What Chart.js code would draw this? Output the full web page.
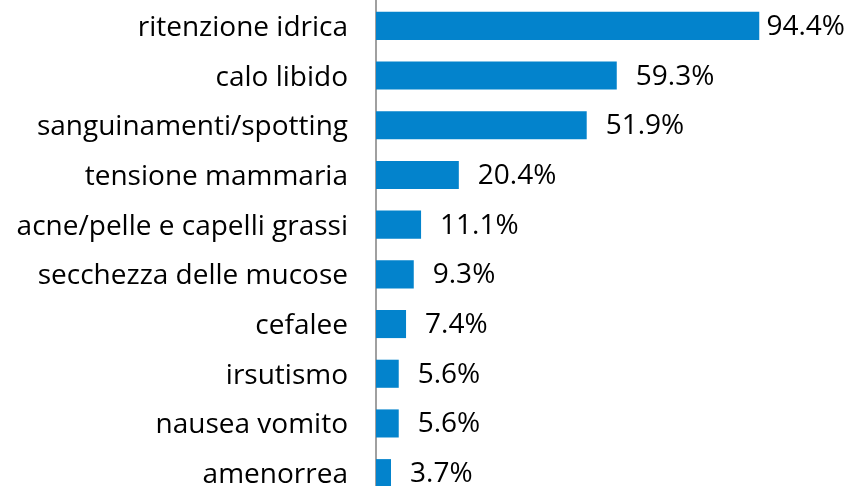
<!DOCTYPE html>
<html><head><meta charset="utf-8">
<script src="https://cdn.jsdelivr.net/npm/chart.js@4/dist/chart.umd.min.js"></script>
<style>html,body{margin:0;padding:0;overflow:hidden;background:#fff;width:848px;height:486px}</style>
</head><body>
<canvas id="c" width="848" height="498"></canvas>
<script>
const categories = ["ritenzione idrica","calo libido","sanguinamenti/spotting","tensione mammaria","acne/pelle e capelli grassi","secchezza delle mucose","cefalee","irsutismo","nausea vomito","amenorrea"];
const values = [94.4,59.3,51.9,20.4,11.1,9.3,7.4,5.6,5.6,3.7];
const valueLabels = ["94.4%","59.3%","51.9%","20.4%","11.1%","9.3%","7.4%","5.6%","5.6%","3.7%"];
const FONT = "'Open Sans', sans-serif";
const FSIZE = 28;
const labelPlugin = {
  id:'vlabels',
  afterDatasetsDraw(chart){
    const ctx = chart.ctx, meta = chart.getDatasetMeta(0);
    ctx.save();
    ctx.font = FSIZE + "px " + FONT;
    ctx.fillStyle = "#000";
    ctx.textBaseline = "middle";
    ctx.textAlign = "left";
    meta.data.forEach((bar,i)=>{
      const t = valueLabels[i];
      const w = ctx.measureText(t).width;
      let x = bar.x + 19;
      if (x + w > chart.width - 3) x = chart.width - 3 - w;
      ctx.fillText(t, x, bar.y + 1);
    });
    ctx.restore();
  }
};
new Chart(document.getElementById('c'), {
  type:'bar',
  data:{labels:categories, datasets:[{data:values, backgroundColor:'#0383CC', borderWidth:0, barPercentage:0.565, categoryPercentage:1}]},
  options:{
    indexAxis:'y', responsive:false, animation:false,
    layout:{padding:{top:1,bottom:0,right:66,left:0}},
    plugins:{legend:{display:false}, tooltip:{enabled:false}},
    scales:{
      x:{display:false, min:0, max:100},
      y:{
        grid:{display:false, drawTicks:false},
        border:{display:true, color:'#A0A0A0', width:2},
        ticks:{color:'#000', font:{family:FONT, size:FSIZE}, padding:28, labelOffset:2},
        afterFit(s){ s.width = 376; s.paddingTop = 0; s.paddingBottom = 0; }
      }
    }
  },
  plugins:[labelPlugin]
});
</script>
</body></html>
